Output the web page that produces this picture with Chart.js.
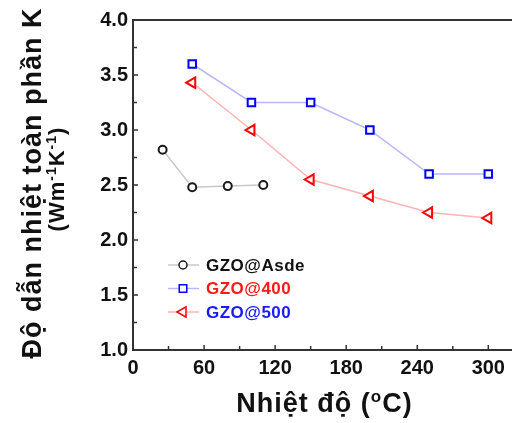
<!DOCTYPE html>
<html>
<head>
<meta charset="utf-8">
<script src="https://cdn.jsdelivr.net/npm/chart.js@4.4.0/dist/chart.umd.min.js"></script>
<style>
  html, body { margin: 0; padding: 0; background: #fff; overflow: hidden; }
  #wrap { position: relative; width: 520px; height: 423px; }
</style>
</head>
<body>
<div id="wrap"><canvas id="kChart"></canvas></div>
<script>
// Data
const seriesNames = ['GZO@Asde', 'GZO@400', 'GZO@500'];
const tempAsde = [25, 50, 80, 110];
const kAsde = [2.82, 2.48, 2.49, 2.50];
const temp400 = [50, 100, 150, 200, 250, 300];
const k400 = [3.60, 3.25, 3.25, 3.00, 2.60, 2.60];
const temp500 = [50, 100, 150, 200, 250, 300];
const k500 = [3.43, 3.00, 2.55, 2.40, 2.25, 2.20];
const xTickValues = [0, 30, 60, 90, 120, 150, 180, 210, 240, 270, 300];
const yTickValues = [1.0, 1.25, 1.5, 1.75, 2.0, 2.25, 2.5, 2.75, 3.0, 3.25, 3.5, 3.75, 4.0];

const FONT = '"Liberation Sans", Arial, sans-serif';
const legendTextColors = ['#111111', '#ff1a1a', '#1a1aff'];

function pts(xs, ys) {
    return xs.map((x, i) => ({ x: x, y: ys[i] }));
}

// draws text made of parts, some of them superscript, centred on x
function drawRich(ctx, parts, x, y, size) {
    const supSize = Math.round(size * 0.62);
    let total = 0;
    parts.forEach(p => {
        ctx.font = 'bold ' + (p.sup ? supSize : size) + 'px ' + FONT;
        p.w = ctx.measureText(p.t).width;
        total += p.w;
    });
    let cx = x - total / 2;
    parts.forEach(p => {
        ctx.font = 'bold ' + (p.sup ? supSize : size) + 'px ' + FONT;
        ctx.fillText(p.t, cx, p.sup ? y - size * 0.38 : y);
        cx += p.w;
    });
}

const decorPlugin = {
    id: 'decor',
    afterDraw(chart) {
        const ctx = chart.ctx;
        const a = chart.chartArea;
        const xs = chart.scales.x;
        const ys = chart.scales.y;
        ctx.save();

        // top frame line
        ctx.strokeStyle = '#333';
        ctx.lineWidth = 2;
        ctx.beginPath();
        ctx.moveTo(a.left - 1, a.top);
        ctx.lineTo(a.right + 2, a.top);
        ctx.stroke();

        // inward tick marks
        ctx.lineWidth = 1.5;
        xs.ticks.forEach(t => {
            const px = xs.getPixelForValue(t.value);
            const len = t.value % 60 === 0 ? 5 : 4;
            ctx.beginPath();
            ctx.moveTo(px, a.bottom);
            ctx.lineTo(px, a.bottom - len);
            ctx.stroke();
        });
        ys.ticks.forEach(t => {
            const py = ys.getPixelForValue(t.value);
            const len = Math.abs(t.value * 2 - Math.round(t.value * 2)) < 1e-6 ? 5 : 4;
            ctx.beginPath();
            ctx.moveTo(a.left, py);
            ctx.lineTo(a.left + len, py);
            ctx.stroke();
        });

        // axis titles
        ctx.fillStyle = '#111';
        ctx.textBaseline = 'alphabetic';
        ctx.textAlign = 'left';
        ctx.letterSpacing = '1px';
        drawRich(ctx, [{ t: 'Nhiệt độ (' }, { t: 'o', sup: true }, { t: 'C)' }],
            (a.left + a.right) / 2 + 2, 412, 27);

        ctx.save();
        ctx.translate(41, (a.top + a.bottom) / 2 - 2);
        ctx.rotate(-Math.PI / 2);
        drawRich(ctx, [{ t: 'Độ dẫn nhiệt toàn phần K' }], 0, 0, 27);
        ctx.restore();

        ctx.save();
        ctx.translate(64, (a.top + a.bottom) / 2 - 6);
        ctx.rotate(-Math.PI / 2);
        drawRich(ctx, [{ t: '(Wm' }, { t: '-1', sup: true }, { t: 'K' }, { t: '-1', sup: true }, { t: ')' }], 0, 0, 22);
        ctx.restore();
        ctx.letterSpacing = '0px';

        // legend
        const lx = a.left + 35;
        const ly = a.top + 245;
        chart.data.datasets.forEach((ds, i) => {
            const y = ly + i * 23.5;
            ctx.strokeStyle = ds.borderColor;
            ctx.lineWidth = 1.5;
            ctx.beginPath();
            ctx.moveTo(lx, y);
            ctx.lineTo(lx + 31, y);
            ctx.stroke();
            ctx.strokeStyle = ds.pointBorderColor;
            ctx.fillStyle = '#fff';
            Chart.helpers.drawPoint(ctx, {
                pointStyle: ds.pointStyle,
                rotation: ds.pointRotation || 0,
                radius: ds.pointRadius,
                borderWidth: ds.pointBorderWidth
            }, lx + 15, y);
            ctx.fillStyle = legendTextColors[i];
            ctx.font = 'bold 17px ' + FONT;
            ctx.textBaseline = 'middle';
            ctx.letterSpacing = '0.5px';
            ctx.fillText(ds.label, lx + 38, y + 1);
            ctx.letterSpacing = '0px';
        });
        ctx.restore();
    }
};

const ctx = document.getElementById('kChart').getContext('2d');
const chart = new Chart(ctx, {
    type: 'line',
    data: {
        datasets: [{
            label: seriesNames[0],
            data: pts(tempAsde, kAsde),
            borderColor: '#c8c8c8',
            borderWidth: 1.5,
            pointStyle: 'circle',
            pointRadius: 4,
            pointBorderWidth: 2,
            pointBorderColor: '#1a1a1a',
            pointBackgroundColor: '#fff',
            tension: 0
        }, {
            label: seriesNames[1],
            data: pts(temp400, k400),
            borderColor: '#b8b8ff',
            borderWidth: 1.5,
            pointStyle: 'rect',
            pointRadius: 5.3,
            pointBorderWidth: 2,
            pointBorderColor: '#0000ff',
            pointBackgroundColor: '#fff',
            tension: 0
        }, {
            label: seriesNames[2],
            data: pts(temp500, k500),
            borderColor: '#ffb4b4',
            borderWidth: 1.5,
            pointStyle: 'triangle',
            pointRotation: -90,
            pointRadius: 6,
            pointBorderWidth: 2,
            pointBorderColor: '#ff0000',
            pointBackgroundColor: '#fff',
            tension: 0
        }]
    },
    options: {
        responsive: true,
        maintainAspectRatio: false,
        animation: false,
        layout: { padding: { top: 20, right: 6, left: 0, bottom: 0 } },
        plugins: {
            legend: { display: false },
            tooltip: { enabled: false }
        },
        scales: {
            x: {
                type: 'linear',
                min: 0,
                max: 320,
                afterBuildTicks: s => { s.ticks = xTickValues.map(v => ({ value: v })); },
                afterFit: s => { s.height = 73; },
                grid: { display: false, drawTicks: false },
                border: { display: true, color: '#333', width: 2 },
                ticks: {
                    padding: 6,
                    color: '#111',
                    font: { family: FONT, size: 20, weight: 'bold' },
                    maxRotation: 0,
                    autoSkip: false,
                    callback: v => (v % 60 === 0 ? String(v) : '')
                }
            },
            y: {
                min: 1.0,
                max: 4.0,
                afterBuildTicks: s => { s.ticks = yTickValues.map(v => ({ value: v })); },
                afterFit: s => { s.width = 133; },
                grid: { display: false, drawTicks: false },
                border: { display: true, color: '#333', width: 2 },
                ticks: {
                    padding: 5,
                    color: '#111',
                    font: { family: FONT, size: 20, weight: 'bold' },
                    autoSkip: false,
                    callback: v => (Math.abs(v * 2 - Math.round(v * 2)) < 1e-6 ? v.toFixed(1) : '')
                }
            }
        }
    },
    plugins: [decorPlugin]
});
</script>
</body>
</html>
